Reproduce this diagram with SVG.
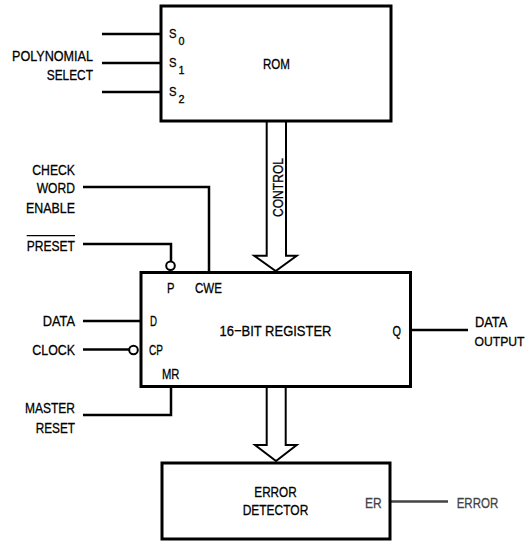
<svg xmlns="http://www.w3.org/2000/svg" width="529" height="542" viewBox="0 0 529 542">
<style>
.box{fill:#fff;stroke:#000;stroke-width:3}
.ln{fill:none;stroke:#000;stroke-width:2.5}
.bus{fill:#fff;stroke:#000;stroke-width:2}
.bub{fill:#fff;stroke:#000;stroke-width:2}
text{font-family:"Liberation Sans",Arial,sans-serif;font-size:15.5px;fill:#000;stroke:#000;stroke-width:0.3}
.m{text-anchor:middle}
.s{font-size:13px}
.sub{font-size:11px}
.gr{fill:#444;stroke:#444}
</style>
<rect width="529" height="542" fill="#fff"/>
<g id="connectors">
<path class="ln" d="M102,34H160M102,63H160M102,92H160"/>
<path class="ln" d="M83,187H209V272"/>
<path class="ln" d="M83,244H171V261"/>
<path class="ln" d="M83,321H141"/>
<path class="ln" d="M83,349.5H129"/>
<path class="ln" d="M171,387V415H83"/>
<path class="ln" d="M411,330H468"/>
<path class="ln" style="stroke:#444" d="M390,501.5H448"/>
<polyline id="control-bus" class="bus" points="266.7,122 266.7,255.7 254.3,255.7 275.7,271 296.7,255.7 286,255.7 286,122"/>
<polyline id="output-bus" class="bus" points="266.7,387 266.7,445 255,445 276,461 296.7,445 285.7,445 285.7,387"/>
<circle class="bub" cx="170.5" cy="265.7" r="4.3"/>
<circle class="bub" cx="133.5" cy="350" r="4.3"/>
</g>
<g id="rom">
<rect class="box" x="161" y="6" width="230" height="115"/>
<text x="263" y="69" textLength="27" lengthAdjust="spacingAndGlyphs">ROM</text>
<text class="s" x="169" y="38" textLength="7.5" lengthAdjust="spacingAndGlyphs">S</text><text class="sub" x="178.5" y="45" textLength="6" lengthAdjust="spacingAndGlyphs">0</text>
<text class="s" x="169" y="67" textLength="7.5" lengthAdjust="spacingAndGlyphs">S</text><text class="sub" x="178.5" y="74" textLength="6" lengthAdjust="spacingAndGlyphs">1</text>
<text class="s" x="169" y="96" textLength="7.5" lengthAdjust="spacingAndGlyphs">S</text><text class="sub" x="178.5" y="103" textLength="6" lengthAdjust="spacingAndGlyphs">2</text>
</g>
<g id="register">
<rect class="box" x="141" y="272.5" width="269.5" height="114"/>
<text x="167" y="292.7" textLength="7.5" lengthAdjust="spacingAndGlyphs">P</text>
<text x="195" y="292.7" textLength="27" lengthAdjust="spacingAndGlyphs">CWE</text>
<text x="150" y="326" textLength="7" lengthAdjust="spacingAndGlyphs">D</text>
<text x="149" y="355" textLength="14" lengthAdjust="spacingAndGlyphs">CP</text>
<text x="162" y="379" textLength="17.5" lengthAdjust="spacingAndGlyphs">MR</text>
<text x="219.5" y="336" textLength="112" lengthAdjust="spacingAndGlyphs">16−BIT REGISTER</text>
<text x="392.5" y="336" textLength="8.5" lengthAdjust="spacingAndGlyphs">Q</text>
</g>
<g id="detector">
<rect class="box" x="162" y="463" width="228" height="76"/>
<text x="254.3" y="497.3" textLength="42.4" lengthAdjust="spacingAndGlyphs">ERROR</text>
<text x="242.7" y="515" textLength="65.6" lengthAdjust="spacingAndGlyphs">DETECTOR</text>
<text class="gr" x="365" y="508.3" textLength="16.7" lengthAdjust="spacingAndGlyphs">ER</text>
</g>
<g id="labels">
<text x="12" y="61" textLength="81" lengthAdjust="spacingAndGlyphs">POLYNOMIAL</text>
<text x="46.7" y="80" textLength="46.3" lengthAdjust="spacingAndGlyphs">SELECT</text>
<text x="32.3" y="175" textLength="42.7" lengthAdjust="spacingAndGlyphs">CHECK</text>
<text x="36.7" y="193.3" textLength="38.3" lengthAdjust="spacingAndGlyphs">WORD</text>
<text x="26" y="213.3" textLength="49" lengthAdjust="spacingAndGlyphs">ENABLE</text>
<text x="26.7" y="250.7" textLength="48.3" lengthAdjust="spacingAndGlyphs">PRESET</text>
<path d="M26.7,235.7H75" stroke="#000" stroke-width="1.2"/>
<text x="42.7" y="326" textLength="32.3" lengthAdjust="spacingAndGlyphs">DATA</text>
<text x="32.3" y="354.5" textLength="42.7" lengthAdjust="spacingAndGlyphs">CLOCK</text>
<text x="25" y="413" textLength="50" lengthAdjust="spacingAndGlyphs">MASTER</text>
<text x="35.7" y="432.7" textLength="39.3" lengthAdjust="spacingAndGlyphs">RESET</text>
<text x="475" y="326.7" textLength="32.3" lengthAdjust="spacingAndGlyphs">DATA</text>
<text x="474.5" y="346" style="font-size:13.5px" textLength="50" lengthAdjust="spacingAndGlyphs">OUTPUT</text>
<text class="gr" x="456.7" y="508.3" textLength="41.6" lengthAdjust="spacingAndGlyphs">ERROR</text>
<text transform="translate(282.5,187.5) rotate(-90)" class="m" textLength="59" lengthAdjust="spacingAndGlyphs">CONTROL</text>
</g>
</svg>
